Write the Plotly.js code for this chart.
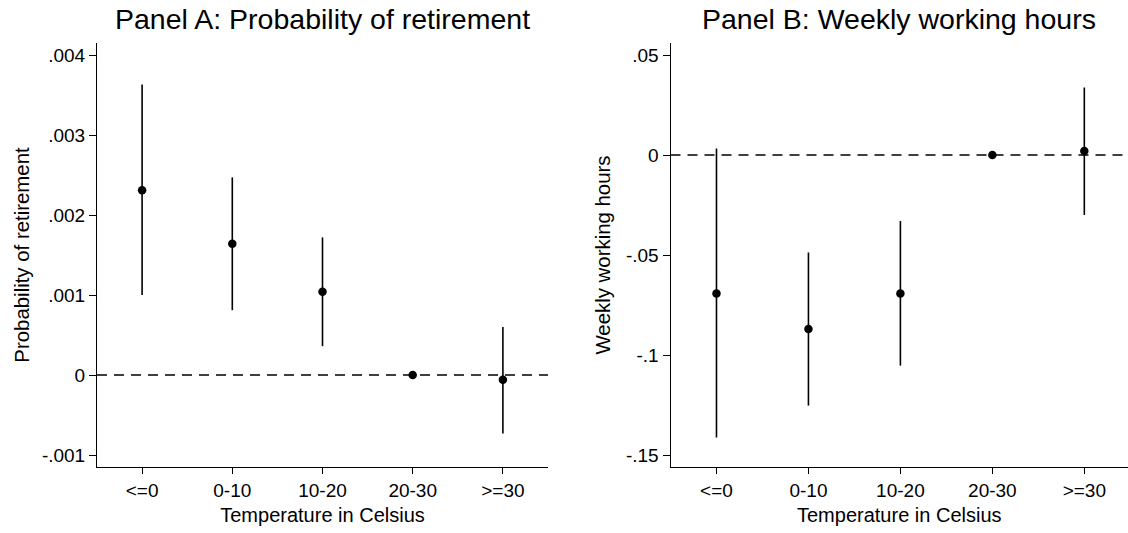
<!DOCTYPE html>
<html>
<head>
<meta charset="utf-8">
<script src="https://cdn.plot.ly/plotly-3.0.1.min.js"></script>
<style>html,body{margin:0;padding:0;background:#fff;}#chart{width:1128px;height:533px;}</style>
</head>
<body>
<div id="chart"></div>
<script>
// Temperature bins
const categories = ['<=0', '0-10', '10-20', '20-30', '>=30'];

// Panel A: Probability of retirement (coefficient and 95% CI)
const retireCoef = [0.00231, 0.00164, 0.00104, 0, -0.00006];
const retireLow  = [0.00100, 0.00081, 0.00036, 0, -0.00073];
const retireHigh = [0.00363, 0.00247, 0.00172, 0, 0.00060];

// Panel B: Weekly working hours (coefficient and 95% CI)
const hoursCoef = [-0.0692, -0.0870, -0.0692, 0, 0.0020];
const hoursLow  = [-0.1413, -0.1253, -0.1053, 0, -0.0300];
const hoursHigh = [0.0033, -0.0487, -0.0330, 0, 0.0338];

// Tick labels
const retireTickVals = [-0.001, 0, 0.001, 0.002, 0.003, 0.004];
const retireTickText = ['-.001', '0', '.001', '.002', '.003', '.004'];
const hoursTickVals = [-0.15, -0.1, -0.05, 0, 0.05];
const hoursTickText = ['-.15', '-.1', '-.05', '0', '.05'];

const FONT = 'Arial, "Liberation Sans", Helvetica, sans-serif';

function ci(coef, lo, hi) {
  return {
    type: 'data', symmetric: false,
    array: hi.map((h, i) => h - coef[i]),
    arrayminus: coef.map((c, i) => c - lo[i]),
    width: 0, thickness: 1.6, color: '#000'
  };
}

const traces = [
  {
    type: 'scatter', mode: 'markers', x: categories, y: retireCoef,
    xaxis: 'x', yaxis: 'y',
    marker: {color: '#000', size: 8.5},
    error_y: ci(retireCoef, retireLow, retireHigh),
    hoverinfo: 'x+y'
  },
  {
    type: 'scatter', mode: 'markers', x: categories, y: hoursCoef,
    xaxis: 'x2', yaxis: 'y2',
    marker: {color: '#000', size: 8.5},
    error_y: ci(hoursCoef, hoursLow, hoursHigh),
    hoverinfo: 'x+y'
  }
];

const W = 1031;
const xBase = {
  type: 'category', showline: true, linecolor: '#000', linewidth: 1,
  ticks: 'outside', ticklen: 6, tickwidth: 1, tickcolor: '#000',
  showgrid: false, zeroline: false, tickfont: {size: 19, family: FONT, color: '#000'},
  fixedrange: true
};
const yBase = {
  showline: true, linecolor: '#000', linewidth: 1,
  ticks: 'outside', ticklen: 7, tickwidth: 1, tickcolor: '#000',
  showgrid: false, zeroline: false, tickfont: {size: 19, family: FONT, color: '#000'},
  tickmode: 'array', fixedrange: true, domain: [0, 1]
};

const layout = {
  width: 1128, height: 533,
  margin: {l: 97, r: 0, t: 43, b: 66, pad: 0},
  paper_bgcolor: '#fff', plot_bgcolor: '#fff',
  showlegend: false,
  font: {family: FONT, color: '#000', size: 19},
  xaxis: Object.assign({}, xBase, {
    domain: [0, 451 / W], range: [-0.5, 4.5], anchor: 'y',
    title: {text: 'Temperature in Celsius', font: {size: 20, family: FONT, color: '#000'}, standoff: 8}
  }),
  yaxis: Object.assign({}, yBase, {
    anchor: 'x', range: [-0.00115, 0.00415],
    tickvals: retireTickVals, ticktext: retireTickText,
    title: {text: 'Probability of retirement', font: {size: 20.4, family: FONT, color: '#000'}, standoff: 6}
  }),
  xaxis2: Object.assign({}, xBase, {
    domain: [573.5 / W, 1], range: [-0.5, 4.475], anchor: 'y2',
    title: {text: 'Temperature in Celsius', font: {size: 20, family: FONT, color: '#000'}, standoff: 8}
  }),
  yaxis2: Object.assign({}, yBase, {
    anchor: 'x2', range: [-0.156, 0.056],
    tickvals: hoursTickVals, ticktext: hoursTickText,
    title: {text: 'Weekly working hours', font: {size: 20.4, family: FONT, color: '#000'}, standoff: 9}
  }),
  shapes: [
    {type: 'line', xref: 'x domain', yref: 'y', x0: 0, x1: 1, y0: 0, y1: 0, layer: 'below',
     line: {color: '#000', width: 1.5, dash: '10px,7px'}},
    {type: 'line', xref: 'x2 domain', yref: 'y2', x0: 0, x1: 1, y0: 0, y1: 0, layer: 'below',
     line: {color: '#000', width: 1.5, dash: '10px,7px'}}
  ],
  annotations: [
    {text: 'Panel A: Probability of retirement', xref: 'x domain', yref: 'paper', x: 0.5, y: (467 - 19) / 424,
     xanchor: 'center', yanchor: 'middle', showarrow: false, font: {size: 28.5, family: FONT, color: '#000'}},
    {text: 'Panel B: Weekly working hours', xref: 'x2 domain', yref: 'paper', x: 0.5, y: (467 - 19) / 424,
     xanchor: 'center', yanchor: 'middle', showarrow: false, font: {size: 28.5, family: FONT, color: '#000'}}
  ]
};

Plotly.newPlot('chart', traces, layout, {displayModeBar: false, staticPlot: true});
</script>
</body>
</html>
